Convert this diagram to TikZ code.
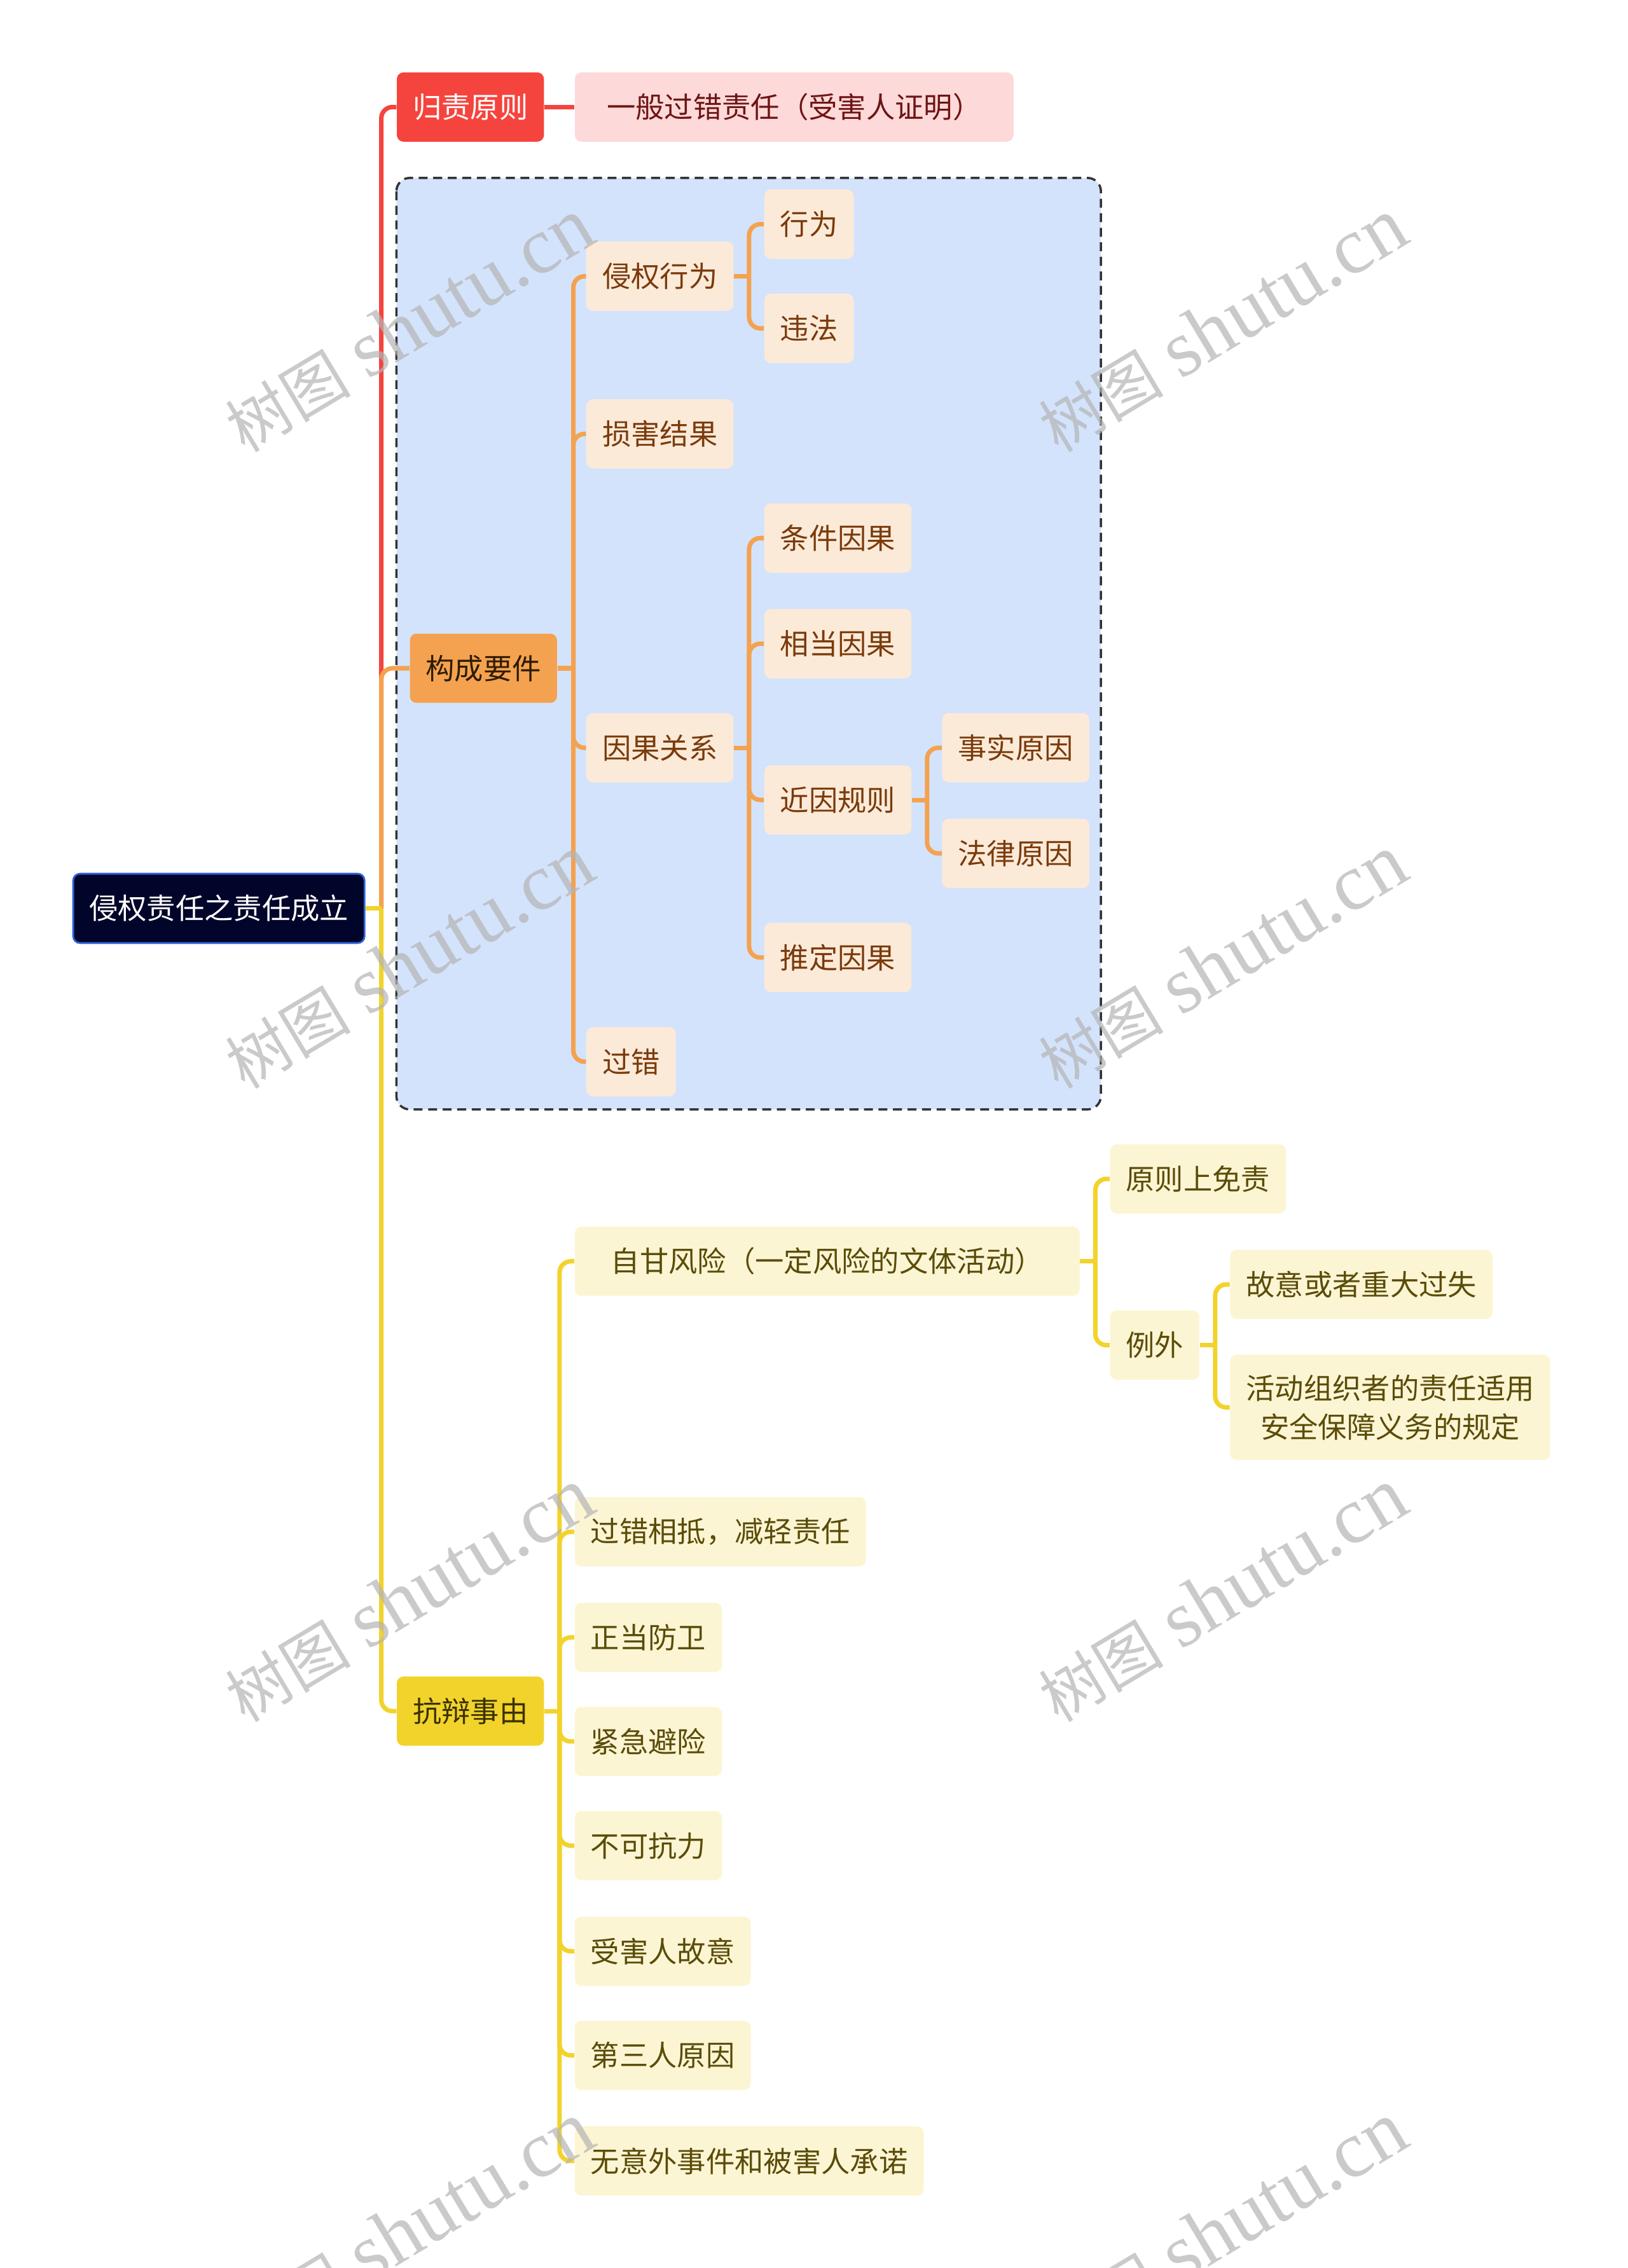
\documentclass[tikz,border=0pt]{standalone}
\usepackage{fontspec}
\setmainfont{Noto Sans CJK SC}
\newfontfamily\wmcjk{Noto Sans CJK SC}
\newfontfamily\wmlat{Liberation Serif}
\usetikzlibrary{positioning}

\definecolor{rootfill}{HTML}{02052A}
\definecolor{rootline}{HTML}{2F62D6}
\definecolor{redc}{HTML}{F5443D}
\definecolor{pinkc}{HTML}{FDD9D9}
\definecolor{pinktx}{HTML}{6E1414}
\definecolor{bluebox}{HTML}{D4E3FC}
\definecolor{orgc}{HTML}{F4A24F}
\definecolor{orgtx}{HTML}{2E1C05}
\definecolor{peachc}{HTML}{FCEAD8}
\definecolor{peachtx}{HTML}{7A3B0C}
\definecolor{yelc}{HTML}{F2D32C}
\definecolor{yeltx}{HTML}{3A3200}
\definecolor{creamc}{HTML}{FCF5D4}
\definecolor{creamtx}{HTML}{5A4C08}
\definecolor{wmgray}{HTML}{B4B4B4}

\begin{document}
\begin{tikzpicture}[x=0.022756cm, y=-0.022756cm,
  box/.style={anchor=west, rounded corners=3pt, minimum height=1.09cm, inner xsep=0.25cm, inner ysep=0pt,
    align=center, font=\fontsize{12.9pt}{17.4pt}\selectfont},
  rootbox/.style={box, fill=rootfill, draw=rootline, line width=0.8pt, text=white},
  redbox/.style={box, fill=redc, text=white},
  pinkbox/.style={box, fill=pinkc, text=pinktx},
  orgbox/.style={box, fill=orgc, text=orgtx},
  peachbox/.style={box, fill=peachc, text=peachtx},
  yelbox/.style={box, fill=yelc, text=yeltx},
  creambox/.style={box, fill=creamc, text=creamtx},
  redline/.style={draw=redc, line width=2pt},
  orgline/.style={draw=orgc, line width=2pt},
  yelline/.style={draw=yelc, line width=2pt},
  elbow/.style={rounded corners=5pt},
  wmark/.style={rotate=31, text=wmgray, opacity=0.7, font=\fontsize{35pt}{35pt}\selectfont}]
\useasboundingbox (0,0) rectangle (1125,1568);

% --- riquadro tratteggiato ---
\draw[fill=bluebox, draw=black!80, line width=1pt, dash pattern=on 4pt off 2.5pt, rounded corners=6pt]
  (274,123) rectangle (761,767);

% --- nodi ---
\node[rootbox] (root) at (50,628) {侵权责任之责任成立};

\node[redbox] (rule) at (274,74) {归责原则};
\node[pinkbox, minimum width=6.9cm] (rulea) at (397,74) {一般过错责任（受害人证明）};

\node[orgbox] (gcyj) at (283,462) {构成要件};
\node[peachbox] (qq) at (405,191) {侵权行为};
\node[peachbox] (xw) at (528,155) {行为};
\node[peachbox] (wf) at (528,227) {违法};
\node[peachbox] (sh) at (405,300) {损害结果};
\node[peachbox] (yg) at (405,517) {因果关系};
\node[peachbox] (tj) at (528,372) {条件因果};
\node[peachbox] (xd) at (528,445) {相当因果};
\node[peachbox] (jy) at (528,553) {近因规则};
\node[peachbox] (ss) at (651,517) {事实原因};
\node[peachbox] (fl) at (651,590) {法律原因};
\node[peachbox] (td) at (528,662) {推定因果};
\node[peachbox] (gc) at (405,734) {过错};

\node[yelbox] (kb) at (274,1183) {抗辩事由};
\node[creambox, minimum width=7.94cm] (zg) at (397,872) {自甘风险（一定风险的文体活动）};
\node[creambox] (yz) at (767,815) {原则上免责};
\node[creambox] (lw) at (767,930) {例外};
\node[creambox] (gy) at (850,888) {故意或者重大过失};
\node[creambox, minimum height=1.66cm] (hd) at (850,973) {活动组织者的责任适用\\安全保障义务的规定};
\node[creambox] (gx) at (397,1059) {过错相抵，减轻责任};
\node[creambox] (zd) at (397,1132) {正当防卫};
\node[creambox] (jj) at (397,1204) {紧急避险};
\node[creambox] (bk) at (397,1276) {不可抗力};
\node[creambox] (sy) at (397,1349) {受害人故意};
\node[creambox] (ds) at (397,1421) {第三人原因};
\node[creambox] (wy) at (397,1494) {无意外事件和被害人承诺};

% --- collegamenti ---
\path (root.east) -- ++(11,0) coordinate (rootj);
\draw[redline, elbow] (rootj) |- (rule.west);
\draw[redline] (rule.east) -- (rulea.west);
\draw[orgline, elbow] (rootj) |- (gcyj.west);
\draw[yelline, elbow] (rootj) |- (kb.west);
\draw[yelline] (root.east) -- (rootj);

\draw[orgline] (gcyj.east) -- ++(11,0) coordinate (gcyjj);
\foreach \c in {qq,sh,yg,gc}{ \draw[orgline, elbow] (gcyjj) |- (\c.west); }
\draw[orgline] (qq.east) -- ++(10.5,0) coordinate (qqj);
\foreach \c in {xw,wf}{ \draw[orgline, elbow] (qqj) |- (\c.west); }
\draw[orgline] (yg.east) -- ++(10.5,0) coordinate (ygj);
\foreach \c in {tj,xd,jy,td}{ \draw[orgline, elbow] (ygj) |- (\c.west); }
\draw[orgline] (jy.east) -- ++(10.5,0) coordinate (jyj);
\foreach \c in {ss,fl}{ \draw[orgline, elbow] (jyj) |- (\c.west); }

\draw[yelline] (kb.east) -- ++(10.5,0) coordinate (kbj);
\foreach \c in {zg,gx,zd,jj,bk,sy,ds,wy}{ \draw[yelline, elbow] (kbj) |- (\c.west); }
\draw[yelline] (zg.east) -- ++(10.5,0) coordinate (zgj);
\foreach \c in {yz,lw}{ \draw[yelline, elbow] (zgj) |- (\c.west); }
\draw[yelline] (lw.east) -- ++(10.5,0) coordinate (lwj);
\foreach \c in {gy,hd}{ \draw[yelline, elbow] (lwj) |- (\c.west); }

% --- filigrana ---
\foreach \wx in {283,845}{
  \foreach \wy in {225,665,1103,1541}{
    \node[wmark] (wm-\wx-\wy) at (\wx,\wy) {{\wmcjk\fontsize{28pt}{28pt}\selectfont 树图} {\wmlat\fontsize{36pt}{36pt}\selectfont shutu.cn}};
  }
}
\end{tikzpicture}
\end{document}
